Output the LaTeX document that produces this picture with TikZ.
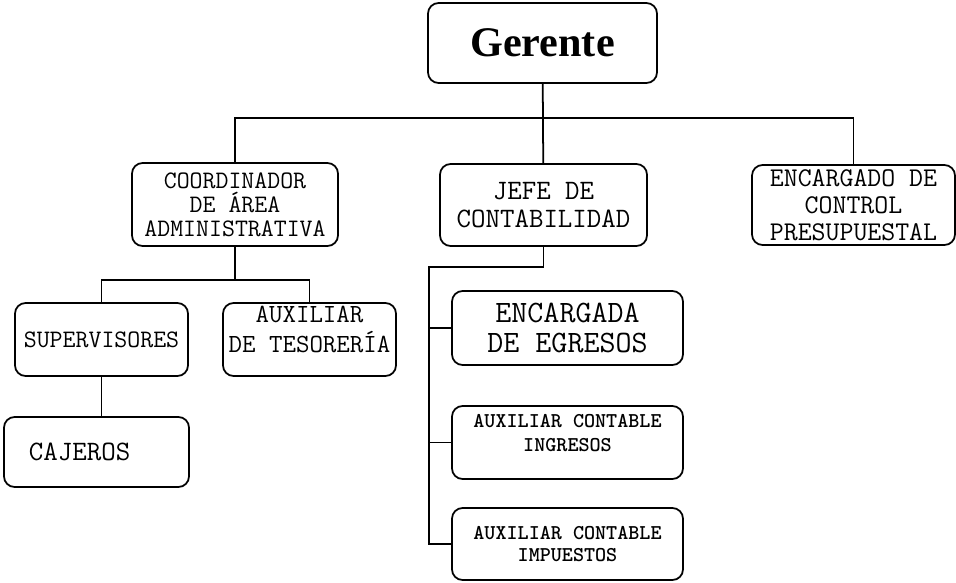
\documentclass[tikz,border=0pt]{standalone}
\usepackage{fontspec}
\setmainfont{Liberation Serif}
\newcommand\subir[2]{\raisebox{#1}[\height][\depth]{\begin{tabular}{@{}c@{}}#2\end{tabular}}}
\tikzset{cargo/.style={draw, rounded corners=6pt, line width=1pt, align=center,
   inner sep=1pt},
 linea/.style={line width=1pt},
 }

\begin{document}
\begin{tikzpicture}[x=0.02cm, y=-0.02cm]
        \useasboundingbox (0,0) rectangle (956,582);
        % cajas
        \node[cargo, minimum width=4.58cm, minimum height=1.6cm,
          font=\bfseries\fontsize{24}{28}\selectfont] (ger) at (542.5,43) {Gerente};
        \node[cargo, minimum width=4.12cm, minimum height=1.66cm,
          font=\ttfamily\fontsize{14.3}{13.6}\selectfont] (coord) at (235,204.5)
          {COORDINADOR\\DE ÁREA\\ADMINISTRATIVA};
        \node[cargo, minimum width=4.14cm, minimum height=1.64cm,
          font=\ttfamily\fontsize{16}{16.4}\selectfont] (jefe) at (543.5,205)
          {JEFE DE\\CONTABILIDAD};
        \node[cargo, minimum width=4.06cm, minimum height=1.6cm,
          font=\ttfamily\fontsize{15.4}{15.3}\selectfont] (ctrl) at (853.5,205)
          {ENCARGADO DE\\CONTROL\\PRESUPUESTAL};
        \node[cargo, minimum width=3.46cm, minimum height=1.46cm,
          font=\ttfamily\fontsize{14.3}{14}\selectfont] (sup) at (101.5,339.5)
          {SUPERVISORES};
        \node[cargo, minimum width=3.46cm, minimum height=1.46cm,
          font=\ttfamily\fontsize{14.9}{16}\selectfont] (teso) at (309.5,339.5)
          {\subir{4.5pt}{AUXILIAR\\DE TESORERÍA}};
        \node[cargo, minimum width=3.7cm, minimum height=1.4cm,
          font=\ttfamily\fontsize{16}{16}\selectfont] (caj) at (96.5,452)
          {CAJEROS\hspace*{1.2em}};
        \node[cargo, minimum width=4.62cm, minimum height=1.48cm,
          font=\ttfamily\fontsize{17.7}{17}\selectfont] (egr) at (567.5,328)
          {ENCARGADA\\DE EGRESOS};
        \node[cargo, minimum width=4.62cm, minimum height=1.46cm,
          font=\ttfamily\bfseries\fontsize{12}{13.6}\selectfont] (ing) at (567.5,442.5)
          {\subir{4.5pt}{AUXILIAR CONTABLE\\INGRESOS}};
        \node[cargo, minimum width=4.62cm, minimum height=1.44cm,
          font=\ttfamily\bfseries\fontsize{12}{12.5}\selectfont] (imp) at (567.5,544)
          {AUXILIAR CONTABLE\\IMPUESTOS};
        % lineas
        \coordinate (bus) at (543,118);
        \coordinate (ramaA) at (235,280);
        \coordinate (ramaB) at (429,267);
        \draw[linea] (ger) -- (jefe);
        \draw[linea] (coord.north) |- (bus) -| (ctrl.north);
        \draw[linea] (coord.south) -- (ramaA);
        \draw[linea] (sup.north) |- (ramaA) -| (teso.north);
        \draw[linea] (sup.south) -- (sup.south |- caj.north);
        \draw[linea] (jefe.south) |- (ramaB) |- (imp.west);
        \draw[linea] (ramaB |- egr.west) -- (egr.west);
        \draw[linea] (ramaB |- ing.west) -- (ing.west);
    \end{tikzpicture}
\end{document}
